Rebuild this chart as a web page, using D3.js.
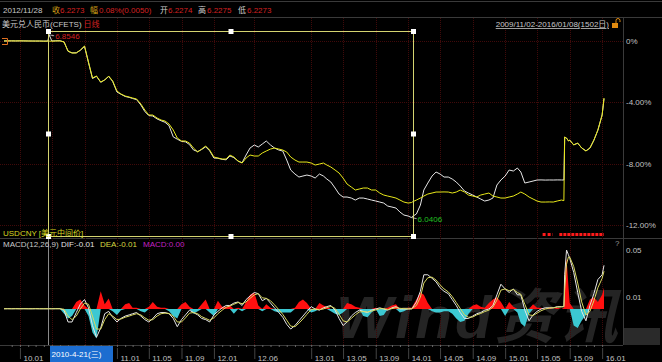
<!DOCTYPE html>
<html>
<head>
<meta charset="utf-8">
<script src="https://cdn.jsdelivr.net/npm/d3@7"></script>
<style>
html, body { margin: 0; padding: 0; background: #000; }
svg { display: block; font-family: 'Liberation Sans', 'Noto Sans CJK SC', sans-serif; font-size: 8px; }
</style>
</head>
<body>
<svg width="662" height="362"></svg>
<script>
// semi-monthly samples
const dates = [
	'2009-11-02','2009-11-16','2009-12-01','2009-12-16',
	'2010-01-01','2010-01-16','2010-02-01','2010-02-16','2010-03-01','2010-03-16','2010-04-01','2010-04-16','2010-04-21','2010-05-01','2010-05-16','2010-06-01','2010-06-16','2010-07-01','2010-07-16','2010-08-01','2010-08-16','2010-09-01','2010-09-16','2010-10-01','2010-10-16','2010-11-01','2010-11-16','2010-12-01','2010-12-16',
	'2011-01-01','2011-01-16','2011-02-01','2011-02-16','2011-03-01','2011-03-16','2011-04-01','2011-04-16','2011-05-01','2011-05-16','2011-06-01','2011-06-16','2011-07-01','2011-07-16','2011-08-01','2011-08-16','2011-09-01','2011-09-16','2011-10-01','2011-10-16','2011-11-01','2011-11-16','2011-12-01','2011-12-16',
	'2012-01-01','2012-01-16','2012-02-01','2012-02-16','2012-03-01','2012-03-16','2012-04-01','2012-04-16','2012-05-01','2012-05-16','2012-06-01','2012-06-16','2012-07-01','2012-07-16','2012-08-01','2012-08-16','2012-09-01','2012-09-16','2012-10-01','2012-10-16','2012-11-01','2012-11-16','2012-12-01','2012-12-16',
	'2013-01-01','2013-01-16','2013-02-01','2013-02-16','2013-03-01','2013-03-16','2013-04-01','2013-04-16','2013-05-01','2013-05-16','2013-06-01','2013-06-16','2013-07-01','2013-07-16','2013-08-01','2013-08-16','2013-09-01','2013-09-16','2013-10-01','2013-10-16','2013-11-01','2013-11-16','2013-12-01','2013-12-16',
	'2014-01-01','2014-01-14','2014-01-16','2014-02-01','2014-02-16','2014-03-01','2014-03-16','2014-04-01','2014-04-16','2014-05-01','2014-05-16','2014-06-01','2014-06-16','2014-07-01','2014-07-16','2014-08-01','2014-08-16','2014-09-01','2014-09-16','2014-10-01','2014-10-16','2014-11-01','2014-11-16','2014-12-01','2014-12-16',
	'2015-01-01','2015-01-16','2015-02-01','2015-02-16','2015-03-01','2015-03-16','2015-04-01','2015-04-16','2015-05-01','2015-05-16','2015-06-01','2015-06-16','2015-07-01','2015-07-16','2015-08-01','2015-08-10','2015-08-13','2015-08-20','2015-08-27','2015-09-01','2015-09-16','2015-10-01','2015-10-16','2015-11-01','2015-11-16','2015-12-01','2015-12-16',
	'2016-01-01','2016-01-08'
]
// USD/CNY CFETS close (white)
const cfets = [
	6.8272, 6.8275, 6.8276, 6.8273,
	6.8276, 6.8274, 6.8272, 6.8270, 6.8268, 6.8268, 6.8265, 6.8267, 6.8546, 6.8270, 6.8280, 6.8280, 6.8230, 6.7810, 6.7740, 6.7745, 6.7850, 6.8030, 6.7300, 6.6600, 6.6700, 6.6430, 6.6540, 6.6690, 6.6470,
	6.6000, 6.5900, 6.5800, 6.5760, 6.5710, 6.5660, 6.5420, 6.5130, 6.4950, 6.4930, 6.4800, 6.4720, 6.4650, 6.4500, 6.4000, 6.3900, 6.3800, 6.3780, 6.3660, 6.3420, 6.3350, 6.3440, 6.3560, 6.3380,
	6.3060, 6.3050, 6.3000, 6.2980, 6.3150, 6.3080, 6.2920, 6.2850, 6.3193, 6.3505, 6.3639, 6.3550, 6.3683, 6.3817, 6.3639, 6.3505, 6.3416, 6.3371, 6.2970, 6.2525, 6.2347, 6.2213, 6.2258, 6.2302,
	6.2258, 6.2169, 6.2347, 6.2258, 6.2124, 6.1991, 6.1724, 6.1456, 6.1323, 6.1323, 6.1278, 6.1189, 6.1278, 6.1278, 6.1234, 6.1189, 6.1145, 6.1100, 6.1055, 6.0922, 6.0877, 6.0833, 6.0655, 6.0521,
	6.0477, 6.0406, 6.0450, 6.0566, 6.0966, 6.1635, 6.1946, 6.2258, 6.2436, 6.2347, 6.2213, 6.2213, 6.2124, 6.1991, 6.1813, 6.1590, 6.1501, 6.1412, 6.1323, 6.1234, 6.1145, 6.1189, 6.1278, 6.1858, 6.2080,
	6.2258, 6.2525, 6.2481, 6.2614, 6.2436, 6.1946, 6.1991, 6.2035, 6.2080, 6.2085, 6.2078, 6.2082, 6.2080, 6.2085, 6.2082, 6.2080, 6.3990, 6.3940, 6.3830, 6.3850, 6.3650, 6.3720, 6.3510, 6.3380, 6.3500, 6.3850, 6.4300,
	6.4980, 6.5700
]
// USDCNY central parity (yellow)
const parity = [
	6.8270, 6.8272, 6.8274, 6.8272,
	6.8275, 6.8273, 6.8270, 6.8269, 6.8268, 6.8269, 6.8263, 6.8265, 6.8265, 6.8262, 6.8270, 6.8275, 6.8225, 6.7825, 6.7736, 6.7736, 6.7869, 6.8047, 6.7335, 6.6622, 6.6711, 6.6444, 6.6533, 6.6711, 6.6489,
	6.6043, 6.5910, 6.5821, 6.5776, 6.5732, 6.5687, 6.5464, 6.5197, 6.4974, 6.4974, 6.4841, 6.4752, 6.4707, 6.4574, 6.4306, 6.3950, 6.3817, 6.3817, 6.3727, 6.3505, 6.3327, 6.3460, 6.3594, 6.3416,
	6.3104, 6.3060, 6.3015, 6.3015, 6.3193, 6.3104, 6.2926, 6.2837, 6.3060, 6.3193, 6.3149, 6.3149, 6.3282, 6.3371, 6.3460, 6.3505, 6.3460, 6.3416, 6.3327, 6.3104, 6.2970, 6.2881, 6.2881, 6.2881,
	6.2837, 6.2748, 6.2792, 6.2837, 6.2748, 6.2659, 6.2525, 6.2392, 6.2169, 6.1902, 6.1768, 6.1635, 6.1679, 6.1724, 6.1724, 6.1635, 6.1635, 6.1501, 6.1412, 6.1367, 6.1323, 6.1278, 6.1189, 6.1100,
	6.1055, 6.1080, 6.1100, 6.1189, 6.1278, 6.1367, 6.1456, 6.1501, 6.1545, 6.1545, 6.1550, 6.1545, 6.1501, 6.1545, 6.1635, 6.1545, 6.1412, 6.1367, 6.1323, 6.1412, 6.1456, 6.1501, 6.1367, 6.1323, 6.1278,
	6.1278, 6.1323, 6.1367, 6.1456, 6.1545, 6.1456, 6.1323, 6.1234, 6.1145, 6.1100, 6.1100, 6.1105, 6.1100, 6.1145, 6.1189, 6.1162, 6.3995, 6.3950, 6.3817, 6.3861, 6.3639, 6.3727, 6.3505, 6.3371, 6.3505, 6.3861, 6.4306,
	6.4974, 6.5732
]
// MACD(12,26,9)
const dif = [
	0.0002, 0.0003, 0.0002, 0.0003,
	0.0002, 0.0003, 0.0002, 0.0002, 0.0003, 0.0002, 0.0002, 0.0002, 0.0003, 0.0002, 0.0003, 0.0003, -0.0010, -0.0110, -0.0110, -0.0030, 0.0040, 0.0080, 0.0010, -0.0140, -0.0240, -0.0160, -0.0040, -0.0020, -0.0070,
	-0.0110, -0.0080, -0.0060, -0.0050, -0.0040, -0.0030, -0.0060, -0.0090, -0.0110, -0.0080, -0.0040, -0.0030, -0.0030, -0.0040, -0.0080, -0.0150, -0.0090, -0.0050, -0.0010, -0.0030, -0.0050, -0.0080, -0.0090, -0.0110,
	-0.0050, -0.0020, 0.0010, 0.0030, 0.0030, 0.0050, 0.0060, 0.0030, 0.0080, 0.0110, 0.0140, 0.0130, 0.0070, 0.0090, 0.0050, 0.0010, -0.0030, -0.0070, -0.0130, -0.0170, -0.0140, -0.0100, -0.0060, -0.0020,
	0.0020, 0.0000, -0.0010, 0.0010, 0.0020, 0.0030, -0.0010, -0.0080, -0.0140, -0.0110, -0.0060, -0.0030, -0.0010, -0.0020, -0.0030, -0.0010, 0.0000, 0.0010, 0.0000, -0.0010, 0.0010, 0.0020, 0.0000, 0.0000,
	0.0000, 0.0002, 0.0005, 0.0060, 0.0150, 0.0290, 0.0290, 0.0260, 0.0230, 0.0180, 0.0150, 0.0130, 0.0080, 0.0030, -0.0030, -0.0080, -0.0080, -0.0060, -0.0040, -0.0030, -0.0010, 0.0000, 0.0030, 0.0120, 0.0210,
	0.0170, 0.0140, 0.0170, 0.0120, 0.0120, -0.0010, -0.0100, -0.0050, -0.0020, 0.0000, 0.0010, 0.0010, 0.0010, 0.0020, 0.0020, 0.0020, 0.0290, 0.0500, 0.0460, 0.0430, 0.0310, 0.0140, -0.0020, -0.0100, 0.0030, 0.0130, 0.0250,
	0.0290, 0.0370
]
const dea = [
	0.0002, 0.0002, 0.0002, 0.0002,
	0.0002, 0.0002, 0.0002, 0.0002, 0.0002, 0.0002, 0.0002, 0.0002, 0.0002, 0.0002, 0.0002, 0.0002, -0.0002, -0.0060, -0.0090, -0.0060, 0.0000, 0.0050, 0.0040, -0.0060, -0.0170, -0.0170, -0.0090, -0.0040, -0.0060,
	-0.0090, -0.0085, -0.0070, -0.0060, -0.0050, -0.0040, -0.0050, -0.0075, -0.0095, -0.0090, -0.0060, -0.0040, -0.0035, -0.0038, -0.0060, -0.0110, -0.0110, -0.0075, -0.0035, -0.0030, -0.0040, -0.0065, -0.0080, -0.0095,
	-0.0075, -0.0040, -0.0010, 0.0015, 0.0025, 0.0040, 0.0055, 0.0045, 0.0060, 0.0090, 0.0120, 0.0130, 0.0095, 0.0090, 0.0070, 0.0035, -0.0005, -0.0045, -0.0095, -0.0145, -0.0150, -0.0120, -0.0085, -0.0045,
	-0.0005, 0.0000, -0.0005, 0.0000, 0.0012, 0.0022, 0.0005, -0.0045, -0.0100, -0.0110, -0.0080, -0.0050, -0.0025, -0.0022, -0.0025, -0.0018, -0.0008, 0.0003, 0.0003, -0.0005, 0.0003, 0.0012, 0.0006, 0.0003,
	0.0001, 0.0001, 0.0003, 0.0030, 0.0100, 0.0220, 0.0265, 0.0270, 0.0245, 0.0205, 0.0170, 0.0145, 0.0105, 0.0055, 0.0005, -0.0050, -0.0070, -0.0068, -0.0050, -0.0038, -0.0022, -0.0010, 0.0015, 0.0075, 0.0160,
	0.0170, 0.0155, 0.0165, 0.0140, 0.0125, 0.0040, -0.0050, -0.0055, -0.0035, -0.0015, 0.0000, 0.0008, 0.0010, 0.0015, 0.0018, 0.0020, 0.0160, 0.0380, 0.0440, 0.0440, 0.0360, 0.0220, 0.0060, -0.0050, -0.0020, 0.0070, 0.0180,
	0.0260, 0.0320
]
const macdBar = [
	0, 0, 0, 0,
	0, 0, 0, 0, 0, 0, 0, 0, 0, 0, 0, 0, -0.004, -0.008, -0.006, 0.006, 0.008, 0.003, -0.006, -0.020, -0.025, 0.015, 0.004, 0.009, -0.002,
	-0.005, -0.001, 0.004, 0.005, 0.001, 0.001, -0.002, -0.003, 0.002, 0.006, 0.002, 0.001, 0.001, -0.002, -0.006, -0.008, 0.004, 0.006, 0.002, -0.004, -0.002, 0.004, 0.008, -0.003,
	-0.006, 0.007, 0.002, 0.002, 0.003, -0.004, 0.001, -0.002, 0.006, 0.012, 0.014, 0.003, -0.002, 0.004, 0.001, -0.002, -0.003, -0.003, -0.003, -0.003, 0.001, 0.006, 0.008, 0.005,
	-0.003, -0.002, 0.005, 0.003, 0.002, -0.002, -0.004, -0.005, -0.003, 0.005, 0.004, 0.002, 0.001, -0.006, -0.007, -0.003, 0.001, -0.006, -0.005, 0.001, 0.003, 0.004, -0.003, -0.002,
	0.001, 0.001, 0.002, 0.008, 0.014, 0.012, 0.005, -0.002, -0.003, -0.003, -0.002, -0.002, -0.004, -0.008, -0.011, -0.010, -0.004, 0.003, 0.004, 0.002, 0.001, 0.005, 0.008, 0.010, 0.006,
	-0.006, 0.006, 0.002, -0.003, -0.012, -0.015, -0.004, 0.004, 0.001, 0.001, 0.000, 0.001, 0.000, 0.001, 0.000, 0.001, 0.030, 0.043, 0.020, 0.005, -0.014, -0.016, -0.010, -0.005, 0.008, 0.010, 0.006,
	0.012, 0.018
]
const pctTicks = [0, -4, -8, -12]
const macdTicks = [0.05, 0.01]
const xTicks = ['2010-01-01','2010-05-01','2010-09-01','2011-01-01','2011-05-01','2011-09-01','2012-01-01','2012-06-01','2013-01-01','2013-05-01','2013-09-01','2014-01-01','2014-05-01','2014-09-01','2015-01-01','2015-05-01','2015-09-01','2016-01-01']
const cursorDate = '2010-04-21'
const selectionEnd = '2014-01-19'
const eventRanges = [['2015-05-22', '2015-06-30'], ['2015-07-24', '2016-01-08']]
const header = [
	['2012/11/28', '#c8c8c8'], ['收', '#d4a017'], ['6.2273', '#d42020'], ['幅', '#d4a017'], ['0.08%(0.0050)', '#d42020'],
	['开', '#d0d0d0'], ['6.2274', '#d42020'], ['高', '#d0d0d0'], ['6.2275', '#d42020'], ['低', '#d0d0d0'], ['6.2273', '#d42020']
]
const headerX = [3, 52, 60, 90, 99, 160, 168, 198, 207, 238, 247]
const macdLegend = [['MACD(12,26,9)', '#c8c8c8'], ['DIF:-0.01', '#e0e0e0'], ['DEA:-0.01', '#d8d840'], ['MACD:0.00', '#c020c0']]
const macdLegendX = [3, 61, 100, 143]

const parse = d3.timeParse('%Y-%m-%d')
const rows = dates.map((d, i) => ({
	date: parse(d), cfets: cfets[i], parity: parity[i], dif: dif[i], dea: dea[i], bar: macdBar[i]
}))
const base = parity[0]
const pct = v => (v / base - 1) * 100

const svg = d3.select('svg')
const axisX = 623
const mainTop = 17, split = 238, bottom = 345

const x = d3.scaleTime()
	.domain(d3.extent(rows, d => d.date))
	.range([4, 604])
const y = d3.scaleLinear()
	.domain([0, -12])
	.range([41, 225])
const ym = d3.scaleLinear()
	.domain([0, 0.05])
	.range([309, 250])

// frame
const frame = svg.append('g').attr('stroke', '#3a3a3a').attr('fill', 'none')
frame.append('line').attr('x1', 0).attr('x2', 662).attr('y1', 1.5).attr('y2', 1.5)
frame.append('line').attr('x1', 0).attr('x2', 662).attr('y1', mainTop + .5).attr('y2', mainTop + .5)
frame.append('line').attr('x1', 0).attr('x2', 662).attr('y1', split + .5).attr('y2', split + .5)
frame.append('line').attr('x1', 0).attr('x2', axisX).attr('y1', bottom + .5).attr('y2', bottom + .5)
frame.append('line').attr('x1', axisX + .5).attr('x2', axisX + .5).attr('y1', mainTop).attr('y2', bottom)
svg.append('rect').attr('x', axisX + 1).attr('y', 328).attr('width', 36).attr('height', 17).attr('fill', '#2a2a2a')

// watermark
svg.append('text')
	.attr('x', 336).attr('y', 338)
	.attr('textLength', 282)
	.style('font-size', '60px').style('font-weight', 'bold').style('font-style', 'italic')
	.attr('fill', '#242424')
	.text('Wind资讯')

// grid
const grid = svg.append('g').attr('stroke', '#400a0a').attr('stroke-dasharray', '1,1')
grid.selectAll('line.v').data(xTicks).join('line')
	.attr('class', 'v')
	.attr('x1', d => Math.round(x(parse(d))) + .5).attr('x2', d => Math.round(x(parse(d))) + .5)
	.attr('y1', mainTop + 1).attr('y2', bottom)
grid.selectAll('line.h').data(pctTicks).join('line')
	.attr('class', 'h')
	.attr('x1', 0).attr('x2', axisX)
	.attr('y1', d => Math.round(y(d)) + .5).attr('y2', d => Math.round(y(d)) + .5)

// right axes
const fmtPct = d => d === 0 ? '0%' : d.toFixed(2) + '%'
svg.append('g').attr('transform', `translate(${axisX},0)`)
	.call(d3.axisRight(y).tickValues(pctTicks).tickSize(0).tickPadding(3).tickFormat(fmtPct))
svg.append('g').attr('transform', `translate(${axisX},0)`)
	.call(d3.axisRight(ym).tickValues(macdTicks).tickSize(0).tickPadding(3).tickFormat(d3.format('.2f')))
svg.selectAll('.domain').remove()
svg.selectAll('.tick text').attr('fill', '#c0c0c0').style('font-size', '8px').style('font-family', 'Liberation Sans, sans-serif')

// cursor / selection geometry
const sx0 = Math.round(x(parse(cursorDate))) - .5, sx1 = Math.round(x(parse(selectionEnd))) + .5
const sy0 = 31.5, sy1 = 236.5
const boxW = 63

// bottom axis
const axB = svg.append('g').attr('transform', `translate(0,${bottom})`)
axB.call(d3.axisBottom(x).ticks(d3.timeMonth).tickSize(2).tickFormat(''))
axB.selectAll('line').attr('stroke', '#666')
axB.select('.domain').remove()
// labels hidden under the cursor date box are left out, as in the picture
const shownTicks = xTicks.map(parse).filter(d => x(d) < sx0 - 20 || x(d) > sx0 + boxW)
const axL = svg.append('g').attr('transform', `translate(0,${bottom})`)
	.call(d3.axisBottom(x).tickValues(shownTicks).tickSize(0).tickPadding(10).tickFormat(d3.timeFormat('%y.%m')))
axL.selectAll('.tick').append('line').attr('y1', 3).attr('y2', 14).attr('stroke', '#444')
axL.selectAll('.tick text').attr('text-anchor', 'start').attr('dx', 3).attr('fill', '#c0c0c0')
	.style('font-size', '8px')
axL.select('.domain').remove()

// main panel lines
const lineMain = key => d3.line().x(d => x(d.date)).y(d => y(pct(d[key])))
svg.append('path').datum(rows).attr('d', lineMain('cfets')).attr('fill', 'none').attr('stroke', '#e6e6e6').attr('stroke-width', 1)
svg.append('path').datum(rows).attr('d', lineMain('parity')).attr('fill', 'none').attr('stroke', '#e8e81a').attr('stroke-width', 1)
svg.append('path').attr('d', 'M2,38.5H7.5V44.5H2').attr('fill', 'none').attr('stroke', '#e07020')

// extremes
const maxRow = d3.greatest(rows, d => d.cfets)
const minRow = d3.least(rows, d => d.cfets)
const marks = [[maxRow, '#d42020'], [minRow, '#20c020']]
marks.forEach(([r, col]) => {
	const px = x(r.date), py = y(pct(r.cfets))
	svg.append('line').attr('x1', px).attr('y1', py).attr('x2', px + 5).attr('y2', py + 1).attr('stroke', '#aaa')
	svg.append('text').attr('x', px + 6).attr('y', py + 4).attr('fill', col).text(r.cfets.toFixed(4))
})

// event markers
svg.selectAll('line.evt').data(eventRanges).join('line')
	.attr('class', 'evt')
	.attr('x1', d => x(parse(d[0]))).attr('x2', d => x(parse(d[1])))
	.attr('y1', 234.5).attr('y2', 234.5)
	.attr('stroke', '#ff1a1a').attr('stroke-width', 3)
	.attr('stroke-dasharray', (d, i) => i ? '3,1' : '3,2')

// selection box
svg.append('rect').attr('x', sx0).attr('y', sy0).attr('width', sx1 - sx0).attr('height', sy1 - sy0)
	.attr('fill', 'none').attr('stroke', '#d4d470')
const handles = []
;[sx0, (sx0 + sx1) / 2, sx1].forEach(hx => [sy0, (sy0 + sy1) / 2, sy1].forEach(hy => {
	if (hx === sx0 || hx === sx1 || hy === sy0 || hy === sy1) handles.push([hx, hy])
}))
svg.selectAll('rect.handle').data(handles).join('rect')
	.attr('class', 'handle')
	.attr('x', d => d[0] - 2.5).attr('y', d => d[1] - 2.5).attr('width', 5).attr('height', 5).attr('fill', '#fff')

// MACD panel
svg.append('line').attr('x1', sx0).attr('x2', sx0).attr('y1', split + 1).attr('y2', bottom).attr('stroke', '#8a8a8a')
const areaPos = d3.area().x(d => x(d.date)).y0(ym(0)).y1(d => ym(Math.max(0, d.bar)))
const areaNeg = d3.area().x(d => x(d.date)).y0(ym(0)).y1(d => ym(Math.min(0, d.bar)))
svg.append('path').datum(rows).attr('d', areaPos).attr('fill', '#ff1010')
svg.append('path').datum(rows).attr('d', areaNeg).attr('fill', '#3cc8d2')
const lineM = key => d3.line().x(d => x(d.date)).y(d => ym(d[key]))
svg.append('path').datum(rows).attr('d', lineM('dif')).attr('fill', 'none').attr('stroke', '#e6e6e6')
svg.append('path').datum(rows).attr('d', lineM('dea')).attr('fill', 'none').attr('stroke', '#d8d860')

// texts
svg.selectAll('text.hdr').data(header).join('text')
	.attr('class', 'hdr')
	.attr('x', (d, i) => headerX[i]).attr('y', 13)
	.attr('fill', d => d[1]).text(d => d[0])
const title = svg.append('text').attr('x', 2).attr('y', 27).attr('fill', '#c8c8c8').text('美元兑人民币(CFETS)')
svg.append('text').attr('x', 2 + title.node().getComputedTextLength() + 2).attr('y', 27).attr('fill', '#d42020').text('日线')
svg.append('text').attr('x', 609).attr('y', 27).attr('text-anchor', 'end').attr('fill', '#c8c8c8')
	.style('text-decoration', 'underline').text('2009/11/02-2016/01/08(1502日)')
svg.append('rect').attr('x', 612).attr('y', 23).attr('width', 6).attr('height', 5).attr('fill', '#e08a10')
svg.append('path').attr('d', 'M616,23V20.5a2,2 0 0 1 4,0V22').attr('fill', 'none').attr('stroke', '#e08a10')
svg.append('text').attr('x', 3).attr('y', 236).attr('fill', '#d8d820').text('USDCNY [美元中间价]')
svg.selectAll('text.leg').data(macdLegend).join('text')
	.attr('class', 'leg')
	.attr('x', (d, i) => macdLegendX[i]).attr('y', 247)
	.attr('fill', d => d[1]).text(d => d[0])
svg.append('text').attr('x', 615).attr('y', 246).attr('fill', '#999').text('?')

// cursor date box
svg.append('rect').attr('x', sx0 + 1.5).attr('y', bottom + 1).attr('width', boxW).attr('height', 16).attr('fill', '#1c6dd0')
svg.append('text').attr('x', sx0 + 3).attr('y', 357).attr('fill', '#fff').text('2010-4-21(三)')
</script>
</body>
</html>
